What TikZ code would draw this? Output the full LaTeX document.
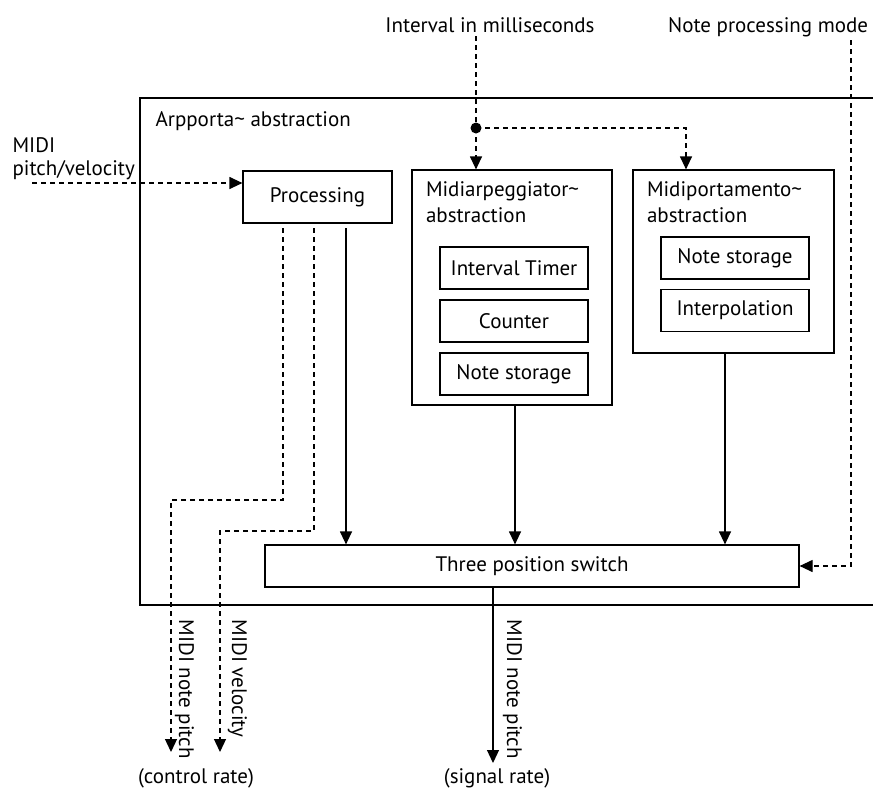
\documentclass[tikz,border=0pt]{standalone}
\usepackage{fontspec}
\setmainfont{PT Sans}
\usetikzlibrary{arrows.meta,positioning}

\begin{document}
\begin{tikzpicture}[x=1pt,y=-1pt,
  font=\fontsize{21}{25}\selectfont,
  line width=1.2pt,
  >={Triangle[length=13pt,width=12pt]},
  block/.style={draw,minimum height=42pt,inner sep=0pt},
  group/.style={draw,inner sep=0pt},
  title/.style={inner sep=0pt,align=left,font=\fontsize{21}{26}\selectfont},
  flow/.style={->},
  ctrlline/.style={dash pattern=on 5pt off 4pt},
  ctrl/.style={->,dash pattern=on 5pt off 4pt},
  vlabel/.style={rotate=-90,anchor=base west,inner sep=0pt}]
  \useasboundingbox (0,0) rectangle (873,788);

  % outer abstraction
  \draw (873,98) -- (140,98) -- (140,605) -- (873,605);
  \node[anchor=base west,inner sep=0pt] (outer) at (155,126) {Arpporta\textasciitilde{} abstraction};

  % inputs
  \node[anchor=base] (interval) at (490,32) {Interval in milliseconds};
  \node[anchor=base east] (mode) at (872,32) {Note processing mode};
  \node[anchor=north west,align=left,inner sep=0pt,font=\fontsize{21}{23}\selectfont] (midilabel) at (12,137) {MIDI\\pitch/velocity};

  \node[block,minimum width=149pt,minimum height=52pt] (proc) at (317.5,197) {Processing};

  \node[group,minimum width=200pt,minimum height=235pt] (arp) at (512,287.5) {};
  \node[title,below right=12pt and 14pt of arp.north west] (arptitle) {Midiarpeggiator\textasciitilde\\abstraction};
  \node[block,minimum width=148pt] (timer) at (514,268) {Interval Timer};
  \node[block,minimum width=148pt] (counter) at (514,321) {Counter};
  \node[block,minimum width=148pt] (arpstore) at (514,374) {Note storage};

  \node[group,minimum width=201pt,minimum height=183pt] (port) at (733.5,261.5) {};
  \node[title,below right=12pt and 14pt of port.north west] (porttitle) {Midiportamento\textasciitilde\\abstraction};
  \node[block,minimum width=148pt] (portstore) at (735,258) {Note storage};
  \node[block,minimum width=148pt] (interp) at (735,310.5) {Interpolation};

  \node[block,minimum width=534pt] (switch) at (532,566) {Three position switch};

  % control connections
  \coordinate (split) at (476,128);
  \coordinate (porttap) at (686,128);
  \draw[ctrlline] (interval.south -| split) -- (split);
  \draw[ctrl] (split) -- (split |- arp.north);
  \draw[ctrl] (split) -| (porttap |- port.north);
  \fill (split) circle[radius=5.5pt];

  \coordinate (modeline) at (851,567);
  \draw[ctrl] (mode.south -| modeline) |- (switch.east);

  \coordinate (midiin) at (32,183);
  \draw[ctrl] (midiin) -- (midiin -| proc.west);

  % processing outputs
  \coordinate (pitchtap) at (283,228);
  \coordinate (veltap) at (314,228);
  \coordinate (sigtap) at (346,228);
  \coordinate (pitchout) at (171,752);
  \coordinate (velout) at (220,752);
  \draw[ctrl] (pitchtap) -- ++(0,272) -| (pitchout);
  \draw[ctrl] (veltap) -- ++(0,303) -| (velout);
  \draw[flow] (sigtap) -- (sigtap |- switch.north);

  \draw[flow] (arp.south) ++(3,0) coordinate (arpout) -- (arpout |- switch.north);
  \draw[flow] (port.south) ++(-8.5,0) coordinate (portout) -- (portout |- switch.north);

  \coordinate (sigout) at (493,763);
  \draw[flow] (sigout |- switch.south) -- (sigout);

  % output labels
  \node[vlabel] (pitchlabel) at (179,619) {MIDI note pitch};
  \node[vlabel] (vellabel) at (232,619) {MIDI velocity};
  \node[vlabel] (siglabel) at (507,619) {MIDI note pitch};
  \node (controlrate) at (196,778) {(control rate)};
  \node (signalrate) at (497,778) {(signal rate)};
\end{tikzpicture}
\end{document}
